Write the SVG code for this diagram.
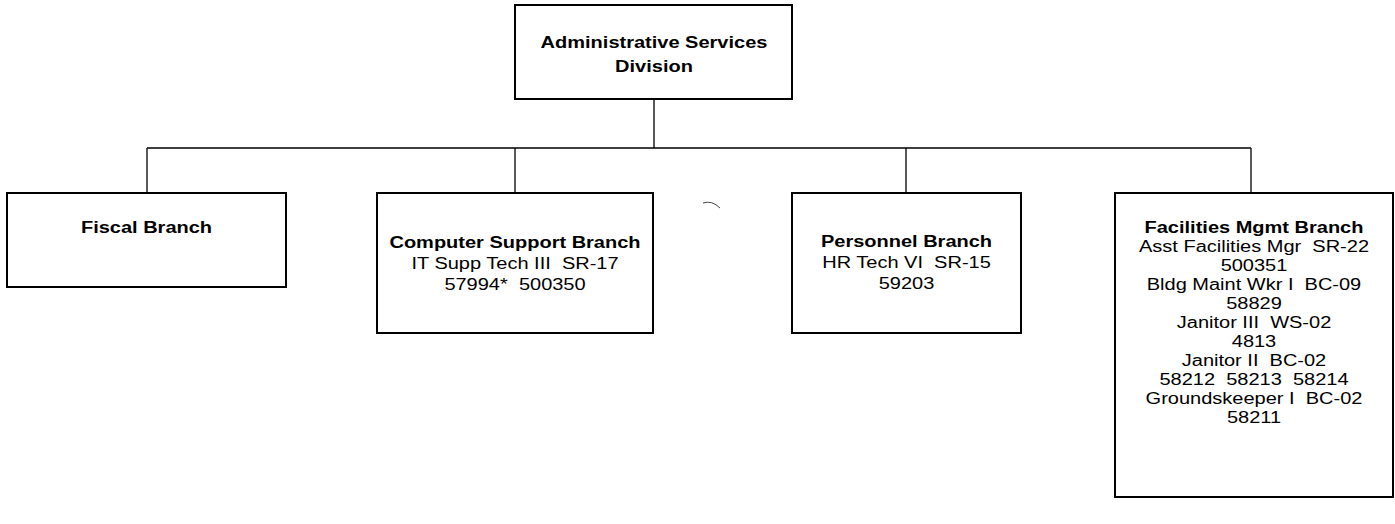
<svg xmlns="http://www.w3.org/2000/svg" width="1395" height="524" viewBox="0 0 1395 524">
<style>
.box{fill:#fff;stroke:#000;stroke-width:2}
.c{fill:none;stroke:#000;stroke-width:1.3}
text{font-family:"Liberation Sans",Arial,sans-serif;font-size:16px;fill:#000;text-anchor:middle;white-space:pre}
.b{font-weight:bold}
</style>
<rect width="1395" height="524" fill="#fff"/>
<g id="connectors">
<path class="c" d="M654 99V148M147 148H1251M147 148V193M515 148V193M906 148V193M1251 148V193"/>
<path d="M703 203Q712 200 720 208" fill="none" stroke="#444" stroke-width="1"/>
</g>
<g id="admin">
<rect class="box" x="515" y="5" width="277" height="94"/>
<g transform="translate(654 0) scale(1.25 1)">
<text class="b" x="0" y="48">Administrative Services</text>
<text class="b" x="0" y="72">Division</text>
</g>
</g>
<g id="fiscal">
<rect class="box" x="7" y="193" width="279" height="94"/>
<g transform="translate(146.5 0) scale(1.25 1)">
<text class="b" x="0" y="233">Fiscal Branch</text>
</g>
</g>
<g id="computer">
<rect class="box" x="377" y="193" width="276" height="140"/>
<g transform="translate(515 0) scale(1.25 1)">
<text class="b" x="0" y="248">Computer Support Branch</text>
<text x="0" y="269" xml:space="preserve">IT Supp Tech III  SR-17</text>
<text x="0" y="290" xml:space="preserve">57994*  500350</text>
</g>
</g>
<g id="personnel">
<rect class="box" x="792" y="193" width="229" height="140"/>
<g transform="translate(906.5 0) scale(1.25 1)">
<text class="b" x="0" y="247">Personnel Branch</text>
<text x="0" y="268" xml:space="preserve">HR Tech VI  SR-15</text>
<text x="0" y="289">59203</text>
</g>
</g>
<g id="facilities">
<rect class="box" x="1115" y="193" width="278" height="304"/>
<g transform="translate(1254 0) scale(1.25 1)">
<text class="b" x="0" y="233">Facilities Mgmt Branch</text>
<text x="0" y="252" xml:space="preserve">Asst Facilities Mgr  SR-22</text>
<text x="0" y="271">500351</text>
<text x="0" y="290" xml:space="preserve">Bldg Maint Wkr I  BC-09</text>
<text x="0" y="309">58829</text>
<text x="0" y="328" xml:space="preserve">Janitor III  WS-02</text>
<text x="0" y="347">4813</text>
<text x="0" y="366" xml:space="preserve">Janitor II  BC-02</text>
<text x="0" y="385" xml:space="preserve">58212  58213  58214</text>
<text x="0" y="404" xml:space="preserve">Groundskeeper I  BC-02</text>
<text x="0" y="423">58211</text>
</g>
</g>
</svg>
